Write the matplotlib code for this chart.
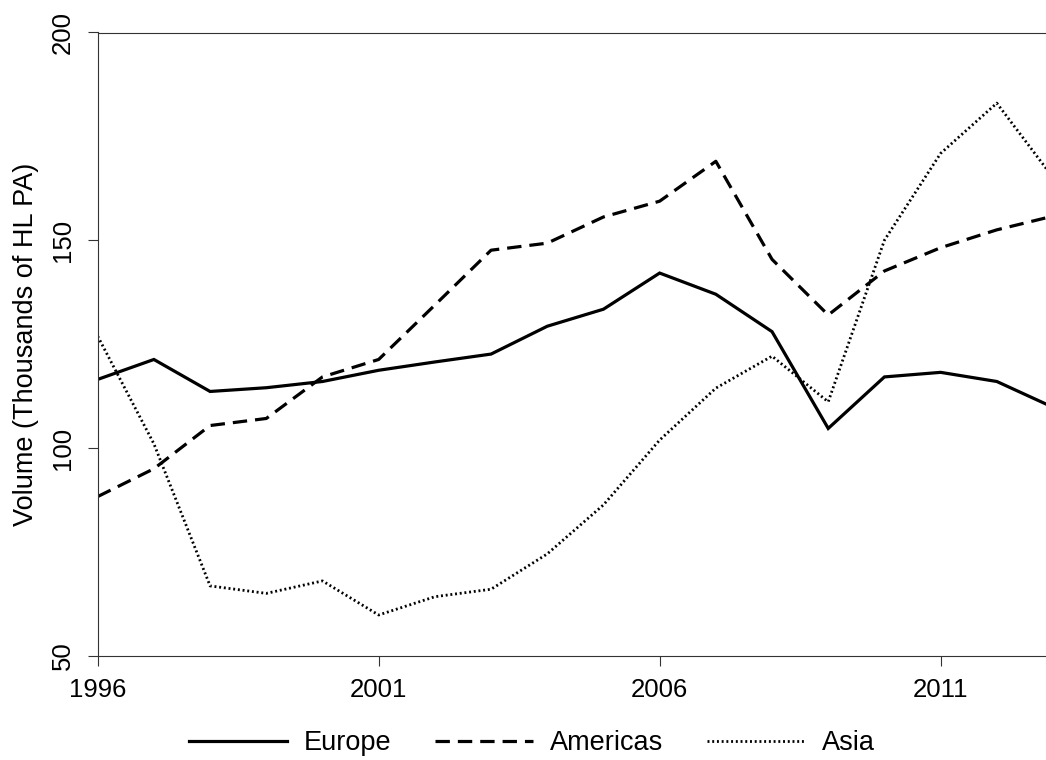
import numpy as np
import matplotlib.pyplot as plt

plt.rcParams['font.family'] = ['Liberation Sans', 'DejaVu Sans']

years = list(range(1996, 2014))
europe = [116.5, 121.3, 113.6, 114.5, 116.0, 118.7, 120.7, 122.6, 129.3, 133.4,
          142.1, 137.0, 128.0, 104.7, 117.1, 118.2, 116.0, 109.8]
americas = [88.3, 95.0, 105.4, 107.1, 117.1, 121.3, 134.4, 147.6, 149.3, 155.6,
            159.4, 169.0, 145.4, 132.0, 142.6, 148.2, 152.5, 155.8]
asia = [126.9, 101.0, 66.8, 65.0, 68.0, 59.8, 64.2, 66.0, 74.5, 86.3,
        101.9, 114.4, 122.1, 111.1, 150.0, 170.9, 183.0, 165.1]

fs = 18.5

fig = plt.figure(figsize=(10.46, 7.6), dpi=100)
ax = fig.add_axes([97.7 / 1046, 1 - 655.7 / 760, (1053 - 97.7) / 1046, (655.7 - 32.5) / 760])

ax.plot(years, europe, color='black', lw=2.3, solid_joinstyle='miter', label='Europe')
ax.plot(years, americas, color='black', lw=2.3, dashes=(4.5, 2.5), label='Americas')
ax.plot(years, asia, color='black', lw=2.0, dashes=(0.7, 1.0), label='Asia')

ax.set_xlim(1996, 2013)
ax.set_ylim(50, 200)
ax.set_xticks([1996, 2001, 2006, 2011])
ax.set_yticks([50, 100, 150, 200])
ax.set_yticklabels(['50', '100', '150', '200'], rotation=90, va='center')
ax.tick_params(direction='out', length=7.2, width=0.8, colors='#333333',
               labelcolor='black', labelsize=fs, pad=9)
for s in ax.spines.values():
    s.set_linewidth(0.8)
    s.set_color('#333333')

ax.set_ylabel('Volume (Thousands of HL PA)', fontsize=fs + 1, labelpad=9)

fig.legend(loc='center', bbox_to_anchor=(532 / 1046, 1 - 743 / 760), ncol=3,
           frameon=False, fontsize=19.5, handlelength=3.6, handletextpad=0.65,
           columnspacing=1.6)

fig.savefig('out.png', dpi=100)
